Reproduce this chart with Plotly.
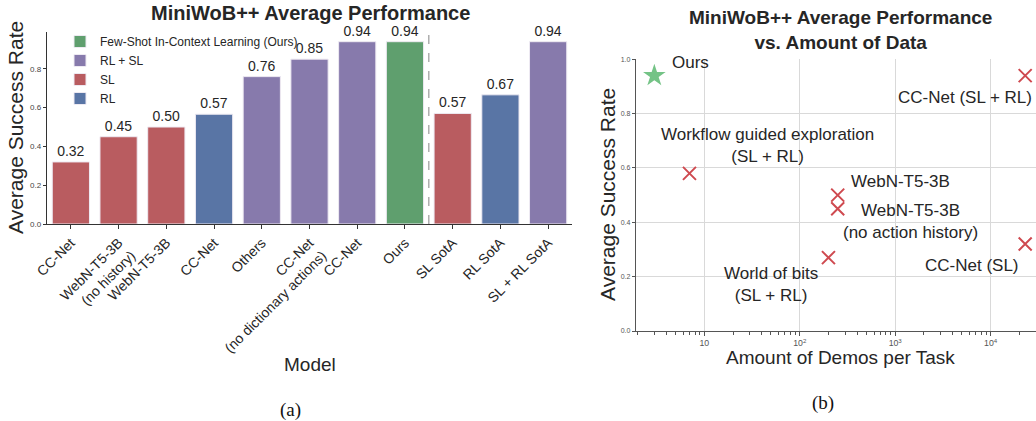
import plotly.graph_objects as go

# ---------------- data: chart (a) ----------------
bar_labels = ["CC-Net", "WebN-T5-3B<br>(no history)", "WebN-T5-3B", "CC-Net", "Others",
              "CC-Net<br>(no dictionary actions)", "CC-Net", "Ours", "SL SotA", "RL SotA",
              "SL + RL SotA"]
bar_values = [0.32, 0.45, 0.50, 0.566, 0.76, 0.85, 0.94, 0.94, 0.57, 0.666, 0.94]
bar_groups = ["SL", "SL", "SL", "RL", "RL + SL", "RL + SL", "RL + SL",
              "Few-Shot In-Context Learning (Ours)", "SL", "RL", "RL + SL"]
group_order = ["Few-Shot In-Context Learning (Ours)", "RL + SL", "SL", "RL"]
group_colors = {"Few-Shot In-Context Learning (Ours)": "#5f9f6e", "RL + SL": "#877aac",
                "SL": "#b95c60", "RL": "#5975a5"}
a_yticks = [0.0, 0.2, 0.4, 0.6, 0.8]

# ---------------- data: chart (b) ----------------
pts_names = ["Ours", "Workflow guided exploration<br>(SL + RL)", "WebN-T5-3B",
             "WebN-T5-3B<br>(no action history)", "World of bits<br>(SL + RL)",
             "CC-Net (SL)", "CC-Net (SL + RL)"]
pts_demos = [3, 7, 250, 250, 200, 23000, 23000]
pts_rate = [0.94, 0.58, 0.50, 0.45, 0.27, 0.32, 0.94]
b_yticks = [0.0, 0.2, 0.4, 0.6, 0.8, 1.0]

FONT = "Liberation Sans"
W, H = 1036, 421
fig = go.Figure()

xs = list(range(len(bar_labels)))
for g in group_order:
    idx = [i for i, gg in enumerate(bar_groups) if gg == g]
    fig.add_trace(go.Bar(
        x=[xs[i] for i in idx], y=[bar_values[i] for i in idx], name=g,
        marker=dict(color=group_colors[g], line=dict(color="#eeeaf2", width=1)),
        width=0.78, text=[f"{bar_values[i]:.2f}" for i in idx], textposition="outside",
        textfont=dict(size=14, color="#262626", family=FONT), cliponaxis=False,
        xaxis="x", yaxis="y"))

# scatter (b)
fig.add_trace(go.Scatter(x=pts_demos[:1], y=pts_rate[:1], mode="markers",
                         marker=dict(symbol="star", size=17, color="#74c386"),
                         showlegend=False, xaxis="x2", yaxis="y2"))
fig.add_trace(go.Scatter(x=pts_demos[1:], y=pts_rate[1:], mode="markers",
                         marker=dict(symbol="x-thin", size=13,
                                     line=dict(width=2, color="#cf4a50")),
                         showlegend=False, xaxis="x2", yaxis="y2"))

# label positions (in axis units): log10(x), y, anchor
lab_pos = [(0.641, 0.99, "left"), (1.666, 0.681, "center"), (3.06, 0.549, "center"),
           (3.164, 0.403, "center"), (1.698, 0.173, "center"), (3.80, 0.240, "center"),
           (3.73, 0.859, "center")]
annotations = []
for name, (lx, ly, anc) in zip(pts_names, lab_pos):
    annotations.append(dict(x=lx, y=ly, xref="x2", yref="y2", text=name, showarrow=False,
                            xanchor=anc, yanchor="middle",
                            font=dict(size=17, color="#262626", family=FONT)))


def PX(px):
    return px / W


def PY(py):
    return 1 - py / H


def ann(px, py, text, size, angle=0, family=FONT, color="#262626"):
    return dict(x=PX(px), y=PY(py), xref="paper", yref="paper", text=text, textangle=angle,
                showarrow=False, font=dict(size=size, color=color, family=family),
                xanchor="center", yanchor="middle")


annotations += [
    ann(310, 13, "<b>MiniWoB++ Average Performance</b>", 20),
    ann(15, 128, "Average Success Rate", 21, angle=-90),
    ann(310, 364, "Model", 19),
    ann(290, 410, "(a)", 19, family="Liberation Serif", color="#111"),
    ann(840, 30, "<b>MiniWoB++ Average Performance<br>vs. Amount of Data</b>", 19),
    ann(607, 195, "Average Success Rate", 21, angle=-90),
    ann(840, 357, "Amount of Demos per Task", 19),
    ann(823, 403, "(b)", 19, family="Liberation Serif", color="#111"),
]

shapes = [dict(type="line", xref="x", yref="y", x0=7.5, x1=7.5, y0=0, y1=0.99,
               line=dict(color="#999999", width=1.2, dash="dash"))]

fig.update_layout(
    width=W, height=H, autosize=False,
    margin=dict(l=0, r=0, t=0, b=0, pad=0, autoexpand=False),
    paper_bgcolor="white", plot_bgcolor="white", barmode="overlay",
    font=dict(family=FONT, color="#262626"),
    legend=dict(x=PX(60), y=PY(27), xanchor="left", yanchor="top",
                font=dict(size=12, color="#262626", family=FONT), tracegroupgap=0,
                bgcolor="rgba(0,0,0,0)", itemwidth=30),
    xaxis=dict(domain=[PX(47), PX(572)], range=[-0.5, 10.5], tickvals=xs,
               ticktext=bar_labels, tickangle=-45, ticks="outside", ticklen=4,
               tickcolor="#333", showline=True, linecolor="#333", linewidth=1.2,
               showgrid=False, zeroline=False, tickfont=dict(size=14, color="#262626"),
               automargin=False),
    yaxis=dict(domain=[PY(224), PY(32)], range=[0, 0.99], tickvals=a_yticks,
               ticktext=[f"{v:.1f}" for v in a_yticks], ticks="outside", ticklen=3,
               tickcolor="#333", showline=True, linecolor="#333", linewidth=1.2,
               showgrid=False, zeroline=False, tickfont=dict(size=8, color="#444"),
               automargin=False),
    xaxis2=dict(domain=[PX(636), 1.0], type="log", range=[0.285, 4.475], dtick=1,
                exponentformat="power", showgrid=True, gridcolor="#d9d9d9", gridwidth=1,
                showline=True, linecolor="#555", linewidth=1.2, ticks="outside", ticklen=4,
                tickcolor="#555", zeroline=False, tickfont=dict(size=7, color="#555"),
                minor=dict(ticks="outside", ticklen=3, tickcolor="#555", showgrid=False,
                           dtick="D1"),
                anchor="y2", automargin=False),
    yaxis2=dict(domain=[PY(331), PY(59.3)], range=[0, 1.0], tickvals=b_yticks,
                ticktext=[f"{v:.1f}" for v in b_yticks], showgrid=True, gridcolor="#d9d9d9",
                showline=True, linecolor="#555", linewidth=1.2, ticks="outside", ticklen=3,
                tickcolor="#555", zeroline=False, tickfont=dict(size=7, color="#555"),
                anchor="x2", automargin=False),
    annotations=annotations, shapes=shapes,
)

fig.write_html("out.html", config={"displayModeBar": False, "staticPlot": True},
               post_script="document.body.style.margin='0';document.body.style.overflow='hidden';")
